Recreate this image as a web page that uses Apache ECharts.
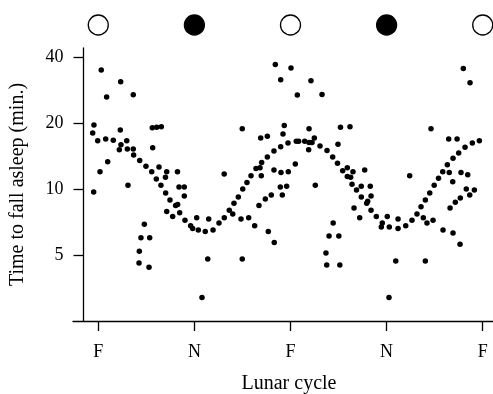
<!DOCTYPE html>
<html>
<head>
<meta charset="utf-8">
<script src="https://cdn.jsdelivr.net/npm/echarts@6/dist/echarts.min.js"></script>
<style>
    html, body { margin: 0; padding: 0; background: #fff; }
    #chart { width: 493px; height: 394px; }
</style>
</head>
<body>
<div id="chart"></div>
<script>
// phase: 0 = full moon, 1 = new moon, 2 = full, ...
const xTickLabels = ['F', 'N', 'F', 'N', 'F'];
const xTickValues = [0, 1, 2, 3, 4];
const yTickValues = [5, 10, 20, 40];
const moonPhases = [0, 1, 2, 3, 4];
const moonFilled = [false, true, false, true, false];

// [phase, minutes to fall asleep]
const sleepPoints = [
    [0.031, 34.9], [0.233, 30.8], [0.087, 26.3], [0.364, 26.9], [-0.045, 19.6], [-0.058, 18.0],
    [0.229, 18.6], [-0.006, 16.6], [0.077, 16.9], [0.156, 16.7], [0.236, 15.9], [0.296, 16.6],
    [0.219, 15.1], [0.302, 15.2], [0.364, 15.2], [0.368, 14.3], [0.562, 19.0], [0.608, 19.1],
    [0.656, 19.2], [0.566, 15.4], [0.098, 13.3], [0.018, 12.0], [0.431, 13.5], [0.496, 12.7],
    [0.556, 12.0], [0.632, 12.6], [0.604, 11.1], [0.712, 12.0], [0.699, 11.3], [0.652, 10.4],
    [0.824, 12.0], [0.309, 10.4], [0.840, 10.2], [0.895, 10.2], [-0.048, 9.7], [0.701, 9.6],
    [0.746, 8.9], [0.805, 8.4], [0.826, 8.5], [0.895, 9.3], [0.712, 7.9], [0.774, 7.5],
    [0.847, 7.8], [0.902, 7.2], [0.961, 6.8], [0.982, 6.6], [1.024, 7.4], [1.041, 6.5],
    [1.113, 6.4], [1.149, 7.3], [0.479, 6.9], [0.444, 6.0], [0.535, 6.0], [0.427, 5.2],
    [0.424, 4.6], [0.528, 4.4], [1.139, 4.8], [1.079, 3.2],
    [1.842, 37.0], [2.005, 35.6], [1.898, 31.5], [2.213, 31.2], [2.071, 26.8], [2.328, 27.0],
    [1.498, 18.8], [1.935, 19.5], [2.193, 18.8], [2.520, 19.1], [1.690, 17.1], [1.759, 17.4],
    [1.922, 17.8], [2.248, 17.1], [2.060, 16.5], [2.085, 16.5], [2.148, 16.5], [2.193, 16.3],
    [2.224, 16.3], [1.974, 16.2], [1.898, 15.6], [1.828, 14.9], [1.759, 14.0], [2.307, 15.7],
    [2.380, 15.0], [2.439, 14.0], [2.494, 16.0], [2.489, 13.1], [2.189, 15.1], [1.700, 13.2],
    [1.641, 12.4], [1.683, 12.5], [2.050, 13.0], [1.828, 12.2], [1.901, 11.9], [1.977, 12.0],
    [1.310, 11.7], [1.589, 11.5], [1.696, 11.5], [1.547, 10.7], [1.503, 10.0], [1.894, 10.2],
    [1.960, 10.3], [2.258, 10.4], [1.800, 9.4], [1.738, 9.0], [1.915, 9.4], [1.672, 8.4],
    [1.457, 9.2], [1.412, 8.6], [1.363, 8.0], [1.399, 7.7], [1.311, 7.4], [1.256, 7.0],
    [1.194, 6.5], [1.485, 7.3], [1.565, 7.4], [1.627, 6.8], [1.769, 6.4], [1.831, 5.7],
    [1.498, 4.8], [2.444, 7.0], [2.401, 6.1], [2.503, 6.1], [2.369, 5.1], [2.377, 4.5],
    [2.513, 4.5],
    [3.798, 35.4], [3.868, 30.5], [3.462, 18.8], [2.619, 19.2], [2.543, 12.1], [2.591, 12.5],
    [2.650, 12.0], [2.772, 12.2], [2.591, 11.4], [2.626, 11.3], [2.640, 10.5], [2.736, 10.3],
    [2.830, 10.3], [2.687, 9.9], [3.240, 11.5], [3.646, 16.9], [3.733, 16.9], [3.965, 16.6],
    [3.892, 16.2], [3.816, 15.5], [3.750, 14.6], [3.691, 13.8], [3.632, 12.9], [3.584, 12.0],
    [3.652, 11.9], [3.774, 11.9], [3.844, 11.6], [3.540, 11.2], [3.688, 10.8], [3.495, 10.4],
    [3.829, 10.0], [3.913, 9.9], [2.737, 9.2], [2.838, 9.3], [2.793, 8.6], [2.803, 8.8],
    [2.838, 8.0], [2.661, 8.2], [2.720, 7.4], [2.893, 7.5], [2.955, 7.0], [2.945, 6.7],
    [3.007, 7.5], [3.028, 6.7], [3.119, 7.3], [3.119, 6.6], [3.199, 6.8], [3.264, 7.2],
    [3.316, 7.7], [3.358, 8.3], [3.403, 8.9], [3.449, 9.6], [3.382, 7.4], [3.420, 7.0],
    [3.483, 7.2], [3.587, 6.5], [3.691, 6.3], [3.764, 5.6], [3.660, 8.2], [3.715, 8.7],
    [3.767, 9.1], [3.865, 9.4], [3.095, 4.7], [3.403, 4.7], [3.025, 3.2]
];

const FONT = 'Liberation Serif';
const AXIS_COLOR = '#000';
const X_MIN = -0.263;
const X_MAX = 4.107;

// y axis is log2 scale relative to 5 min
const toLog = v => Math.log2(v / 5);

const lineStyle = { color: AXIS_COLOR, width: 1.3 };

const chart = echarts.init(document.getElementById('chart'), null, { renderer: 'canvas' });

chart.setOption({
    animation: false,
    grid: [
        { left: 73, right: 0, top: 48, bottom: 73, outerBoundsMode: 'none' },
        { left: 73, right: 0, top: 15, height: 20, outerBoundsMode: 'none' }
    ],
    xAxis: [
        {
            type: 'value',
            gridIndex: 0,
            min: X_MIN,
            max: X_MAX,
            name: 'Lunar cycle',
            nameLocation: 'middle',
            nameGap: 53,
            nameTextStyle: { fontFamily: FONT, fontSize: 20, color: '#000', padding: [0, 0, 0, 12] },
            axisLine: { show: true, onZero: false, lineStyle },
            axisTick: { show: true, length: 10, lineStyle, customValues: xTickValues },
            axisLabel: {
                margin: 22,
                fontFamily: FONT,
                fontSize: 18,
                color: '#000',
                customValues: xTickValues,
                formatter: v => xTickLabels[Math.round(v)]
            },
            splitLine: { show: false }
        },
        { type: 'value', gridIndex: 1, min: X_MIN, max: X_MAX, show: false }
    ],
    yAxis: [
        {
            type: 'value',
            gridIndex: 0,
            min: -1,
            max: 3.136,
            offset: -10.5,
            name: 'Time to fall asleep (min.)',
            nameLocation: 'middle',
            nameGap: 56,
            nameTextStyle: { fontFamily: FONT, fontSize: 20, color: '#000' },
            axisLine: { show: true, onZero: false, lineStyle },
            axisTick: { show: true, length: 10, lineStyle, customValues: yTickValues.map(toLog) },
            axisLabel: {
                margin: 20,
                fontFamily: FONT,
                fontSize: 18,
                color: '#000',
                customValues: yTickValues.map(toLog),
                formatter: v => String(Math.round(5 * Math.pow(2, v)))
            },
            splitLine: { show: false }
        },
        { type: 'value', gridIndex: 1, min: 0, max: 1, show: false }
    ],
    series: [
        {
            type: 'scatter',
            xAxisIndex: 0,
            yAxisIndex: 0,
            symbol: 'circle',
            symbolSize: 5.5,
            itemStyle: { color: '#000', opacity: 1 },
            silent: true,
            data: sleepPoints.map(([p, v]) => [p, toLog(v)])
        },
        {
            type: 'scatter',
            xAxisIndex: 1,
            yAxisIndex: 1,
            symbol: 'circle',
            symbolSize: 20,
            clip: false,
            silent: true,
            data: moonPhases.map((p, i) => ({
                value: [p, 0.5],
                itemStyle: moonFilled[i]
                    ? { color: '#000', borderColor: '#000', borderWidth: 1.3, opacity: 1 }
                    : { color: '#fff', borderColor: '#000', borderWidth: 1.3, opacity: 1 }
            }))
        }
    ]
});
</script>
</body>
</html>
